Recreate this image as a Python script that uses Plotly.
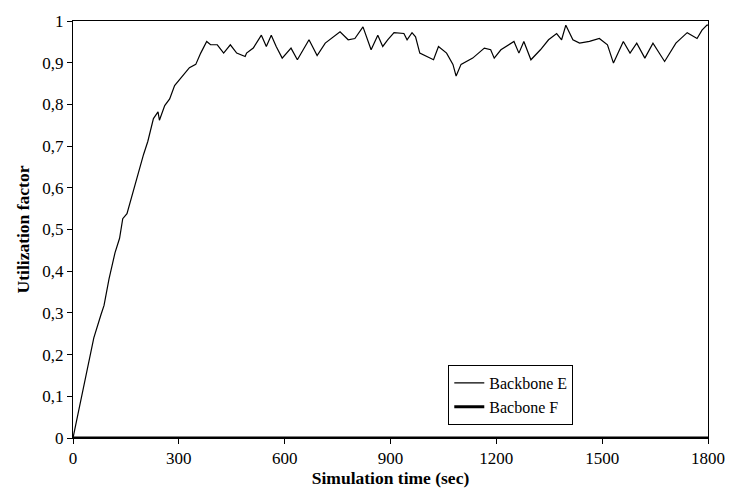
import plotly.graph_objects as go

# Backbone E utilization
time_s = [0, 23, 48, 59, 79, 88, 102, 119, 132, 141, 153, 172, 190, 200, 212, 228,
          241, 245, 260, 274, 288, 311, 330, 348, 362, 379, 390, 409, 427, 446, 464,
          488, 492, 511, 534, 548, 562, 576, 593, 618, 636, 669, 692, 715, 738, 757,
          780, 799, 822, 845, 864, 878, 892, 910, 938, 947, 961, 971, 983, 1003, 1022,
          1036, 1059, 1077, 1086, 1100, 1133, 1166, 1184, 1194, 1213, 1250, 1264, 1278,
          1298, 1325, 1348, 1371, 1385, 1397, 1417, 1436, 1464, 1492, 1515, 1532, 1560,
          1579, 1598, 1621, 1644, 1677, 1709, 1741, 1769, 1783, 1797, 1800]
util_e = [0.0, 0.095, 0.193, 0.24, 0.295, 0.318, 0.381, 0.444, 0.479, 0.526, 0.538,
          0.597, 0.648, 0.68, 0.711, 0.766, 0.782, 0.762, 0.797, 0.813, 0.845, 0.868,
          0.888, 0.896, 0.923, 0.951, 0.943, 0.943, 0.923, 0.943, 0.923, 0.915, 0.923,
          0.935, 0.966, 0.939, 0.966, 0.939, 0.911, 0.935, 0.907, 0.955, 0.917, 0.947,
          0.962, 0.974, 0.955, 0.958, 0.986, 0.931, 0.966, 0.939, 0.955, 0.972, 0.970,
          0.955, 0.972, 0.962, 0.923, 0.915, 0.907, 0.939, 0.923, 0.896, 0.868, 0.896,
          0.911, 0.935, 0.931, 0.911, 0.931, 0.951, 0.923, 0.951, 0.907, 0.931, 0.955,
          0.970, 0.955, 0.990, 0.955, 0.947, 0.951, 0.958, 0.943, 0.899, 0.951, 0.923,
          0.947, 0.911, 0.947, 0.903, 0.947, 0.972, 0.958, 0.978, 0.990, 0.99]

# Bacbone F utilization (flat at zero)
time_f = [0, 1800]
util_f = [0, 0]

x_ticks = [0, 300, 600, 900, 1200, 1500, 1800]
y_ticks = [0, 0.1, 0.2, 0.3, 0.4, 0.5, 0.6, 0.7, 0.8, 0.9, 1.0]
y_labels = ["0", "0,1", "0,2", "0,3", "0,4", "0,5", "0,6", "0,7", "0,8", "0,9", "1"]

FONT = "Liberation Serif, Times New Roman, serif"

fig = go.Figure()
fig.add_trace(go.Scatter(x=time_s, y=util_e, mode="lines", name="Backbone E",
                         line=dict(color="black", width=1.2)))
fig.add_trace(go.Scatter(x=time_f, y=util_f, mode="lines", name="Bacbone F",
                         line=dict(color="black", width=3), cliponaxis=False))

fig.update_layout(
    width=737, height=504,
    margin=dict(l=73, r=18, t=14, b=66),
    paper_bgcolor="white", plot_bgcolor="white",
    font=dict(family=FONT, size=17, color="black"),
    showlegend=True,
    legend=dict(x=0.591, y=0.175, xanchor="left", yanchor="top",
                bgcolor="white", bordercolor="black", borderwidth=1,
                font=dict(family=FONT, size=16, color="black"),
                tracegroupgap=0),
    xaxis=dict(range=[0, 1800], tickvals=x_ticks, ticktext=[str(v) for v in x_ticks],
               ticks="outside", ticklen=5, tickcolor="black", tickwidth=1,
               showline=True, linecolor="black", linewidth=1, mirror=True,
               showgrid=False, zeroline=False,
               title=dict(text="<b>Simulation time (sec)</b>", standoff=4,
                          font=dict(family=FONT, size=17.5))),
    yaxis=dict(range=[0, 1], tickvals=y_ticks, ticktext=y_labels,
               ticks="outside", ticklen=5, tickcolor="black", tickwidth=1,
               showline=True, linecolor="black", linewidth=1, mirror=True,
               showgrid=False, zeroline=False,
               title=dict(text="<b>Utilization factor</b>", standoff=8,
                          font=dict(family=FONT, size=17.5))),
)

fig.write_html("out.html")
